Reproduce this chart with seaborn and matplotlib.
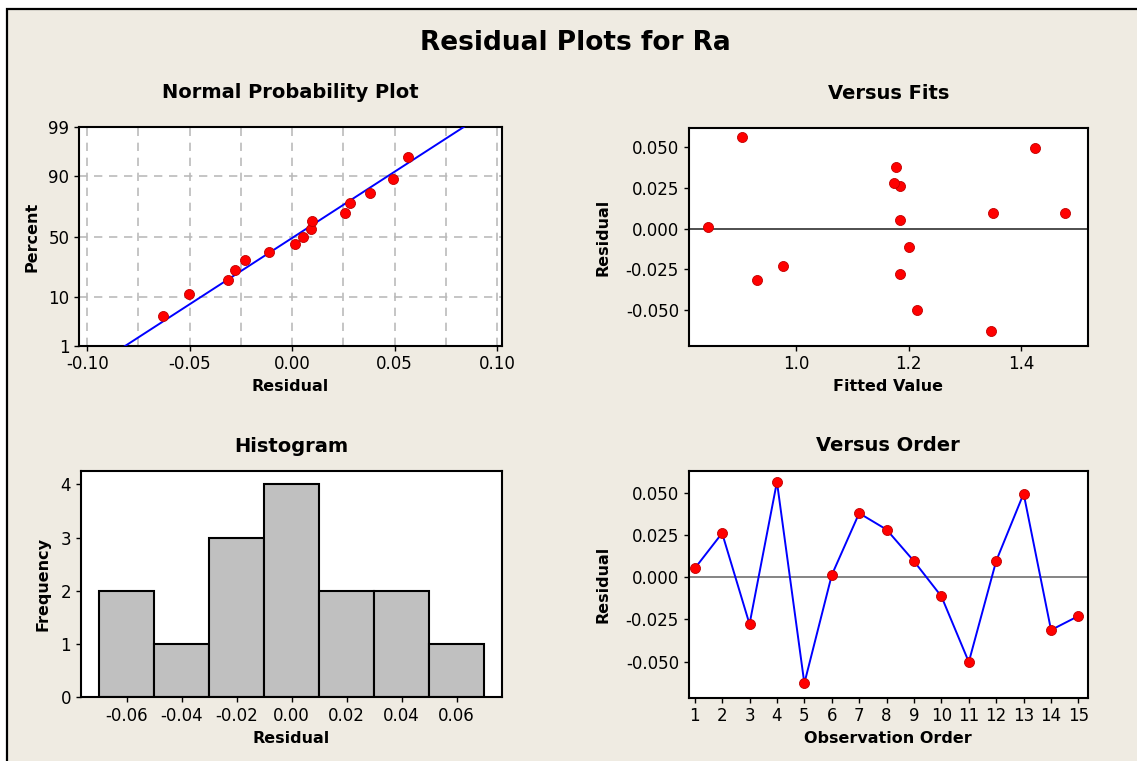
import numpy as np
import pandas as pd
import matplotlib
matplotlib.use("Agg")
import matplotlib.pyplot as plt
import seaborn as sns
from matplotlib.patches import Rectangle
from matplotlib.ticker import FixedLocator, FormatStrFormatter, MultipleLocator
from statistics import NormalDist

order = list(range(1, 16))
residuals = [0.0051, 0.0260, -0.0278, 0.0563, -0.0628, 0.0012, 0.0378, 0.0281,
             0.0094, -0.0114, -0.0502, 0.0096, 0.0494, -0.0313, -0.0230]
fitted = [1.184, 1.185, 1.184, 0.903, 1.346, 0.844, 1.177, 1.173,
          1.350, 1.200, 1.214, 1.478, 1.425, 0.930, 0.976]
pct_ticks = [1, 10, 50, 90, 99]
hist_bins = [-0.07, -0.05, -0.03, -0.01, 0.01, 0.03, 0.05, 0.07]

df = pd.DataFrame({"order": order, "residual": residuals, "fitted": fitted})

# Styling
sns.set_style("ticks")
plt.rcParams["font.family"] = ["DejaVu Sans"]
plt.rcParams["axes.unicode_minus"] = False
for key in ["text.color", "axes.labelcolor", "xtick.color", "ytick.color"]:
    plt.rcParams[key] = "black"
BG = "#EFEBE2"
RED = "#FF0000"
BLUE = "#0000FF"
TICK_FS = 12
LABEL_FS = 11.5
SUB_FS = 14

fig = plt.figure(figsize=(11.37, 7.61), dpi=100, facecolor="white")
fig.patches.append(Rectangle((6.5 / 1137, -0.05), 1.1, 1.05 - 9 / 761,
                             transform=fig.transFigure, facecolor=BG,
                             edgecolor="black", linewidth=1.6, zorder=-10))

ax_np = fig.add_axes([0.0695, 0.5457, 0.372, 0.287])
ax_fit = fig.add_axes([0.6057, 0.5457, 0.351, 0.2857])
ax_hist = fig.add_axes([0.071, 0.0837, 0.3708, 0.2974])
ax_ord = fig.add_axes([0.6057, 0.0832, 0.351, 0.298])


def style_axes(ax):
    ax.set_facecolor("white")
    for s in ax.spines.values():
        s.set_color("black")
        s.set_linewidth(1.5)
    ax.tick_params(axis="both", which="major", direction="out", length=3.5,
                   width=1, colors="black", labelsize=TICK_FS,
                   top=False, right=False)


def marks(ax, x, y):
    sns.scatterplot(x=x, y=y, color=RED, edgecolor="#C00000",
                    linewidth=0.6, s=52, ax=ax, zorder=4)


# 1. Normal probability plot
nd = NormalDist()
res_sorted = np.sort(residuals)
n = len(res_sorted)
z_pts = [nd.inv_cdf((i - 0.3) / (n + 0.4)) for i in range(1, n + 1)]
mu, sd = np.mean(residuals), np.std(residuals, ddof=1)
z_line = np.array([-3.0, 3.0])
line_df = pd.DataFrame({"x": mu + sd * z_line, "z": z_line})

style_axes(ax_np)
sns.lineplot(data=line_df, x="x", y="z", color=BLUE, lw=1.4, ax=ax_np, zorder=3)
marks(ax_np, res_sorted, z_pts)
ax_np.set_xlim(-0.104, 0.1024)
ax_np.set_ylim(nd.inv_cdf(0.01), nd.inv_cdf(0.99))
ax_np.xaxis.set_major_locator(FixedLocator([-0.10, -0.05, 0.0, 0.05, 0.10]))
ax_np.xaxis.set_minor_locator(FixedLocator([-0.075, -0.025, 0.025, 0.075]))
ax_np.xaxis.set_major_formatter(FormatStrFormatter("%.2f"))
ax_np.yaxis.set_major_locator(FixedLocator([nd.inv_cdf(p / 100) for p in pct_ticks]))
ax_np.set_yticklabels([str(p) for p in pct_ticks])
ax_np.tick_params(axis="x", which="minor", length=0)
ax_np.grid(True, which="both", ls=(0, (5, 4)), color="#BBBBBB", lw=1.2)
ax_np.set_axisbelow(True)
ax_np.set_xlabel("Residual", fontsize=LABEL_FS, fontweight="bold")
ax_np.set_ylabel("Percent", fontsize=LABEL_FS, fontweight="bold", labelpad=6)
ax_np.set_title("Normal Probability Plot", fontsize=SUB_FS, fontweight="bold", pad=21)

# 2. Versus fits
style_axes(ax_fit)
ax_fit.axhline(0, color="#303030", lw=1.2, zorder=2)
marks(ax_fit, df["fitted"], df["residual"])
ax_fit.set_xlim(0.809, 1.518)
ax_fit.set_ylim(-0.0719, 0.0617)
ax_fit.xaxis.set_major_locator(FixedLocator([1.0, 1.2, 1.4]))
ax_fit.xaxis.set_major_formatter(FormatStrFormatter("%.1f"))
ax_fit.yaxis.set_major_locator(MultipleLocator(0.025))
ax_fit.yaxis.set_major_formatter(FormatStrFormatter("%.3f"))
ax_fit.set_xlabel("Fitted Value", fontsize=LABEL_FS, fontweight="bold")
ax_fit.set_ylabel("Residual", fontsize=LABEL_FS, fontweight="bold", labelpad=11)
ax_fit.set_title("Versus Fits", fontsize=SUB_FS, fontweight="bold", pad=21)

# 3. Histogram
style_axes(ax_hist)
sns.histplot(data=df, x="residual", bins=hist_bins, color="#C0C0C0",
             edgecolor="black", linewidth=1.5, alpha=1, ax=ax_hist)
ax_hist.set_xlim(-0.0767, 0.0766)
ax_hist.set_ylim(0, 4.25)
ax_hist.xaxis.set_major_locator(FixedLocator([-0.06, -0.04, -0.02, 0.0, 0.02, 0.04, 0.06]))
ax_hist.xaxis.set_major_formatter(FormatStrFormatter("%.2f"))
ax_hist.yaxis.set_major_locator(MultipleLocator(1))
ax_hist.set_xlabel("Residual", fontsize=LABEL_FS, fontweight="bold")
ax_hist.set_ylabel("Frequency", fontsize=LABEL_FS, fontweight="bold", labelpad=7)
ax_hist.set_title("Histogram", fontsize=SUB_FS, fontweight="bold", pad=14)

# 4. Versus order
style_axes(ax_ord)
ax_ord.axhline(0, color="#707070", lw=1.2, zorder=2)
sns.lineplot(data=df, x="order", y="residual", color=BLUE, lw=1.4, ax=ax_ord, zorder=3)
marks(ax_ord, df["order"], df["residual"])
ax_ord.set_xlim(0.78, 15.34)
ax_ord.set_ylim(-0.0713, 0.0628)
ax_ord.xaxis.set_major_locator(FixedLocator(order))
ax_ord.yaxis.set_major_locator(MultipleLocator(0.025))
ax_ord.yaxis.set_major_formatter(FormatStrFormatter("%.3f"))
ax_ord.set_xlabel("Observation Order", fontsize=LABEL_FS, fontweight="bold")
ax_ord.set_ylabel("Residual", fontsize=LABEL_FS, fontweight="bold", labelpad=11)
ax_ord.set_title("Versus Order", fontsize=SUB_FS, fontweight="bold", pad=14)

fig.text(0.506, 0.944, "Residual Plots for Ra", ha="center", va="center",
         fontsize=19, fontweight="bold")

fig.savefig("out.png", dpi=100, facecolor=fig.get_facecolor())
